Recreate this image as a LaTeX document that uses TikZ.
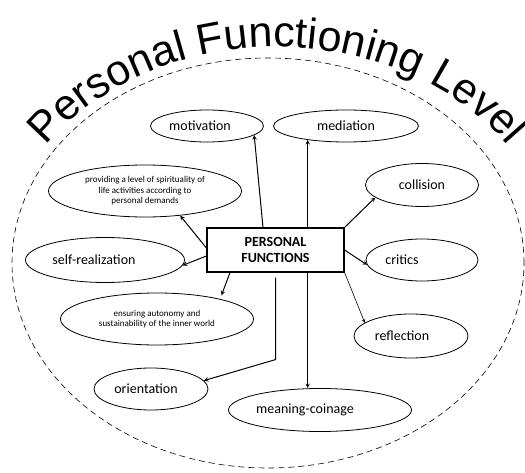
\documentclass[tikz,border=0pt]{standalone}
\usepackage{fontspec}
\setmainfont{Carlito}
\newfontfamily\titlefont{Liberation Sans}
\usetikzlibrary{shapes.geometric,decorations.text}
\begin{document}
\begin{tikzpicture}[x=1pt,y=1pt,
	func/.style={ellipse,draw,line width=0.8pt,inner sep=0pt,font=\fontsize{14}{16}\selectfont},
	small/.style={font=\fontsize{9}{10.5}\selectfont,align=center},
	arr/.style={-stealth,line width=1pt}]
	\useasboundingbox (0,0) rectangle (525,472);
	\draw[dash pattern=on 6pt off 4pt,line width=0.6pt] (268,209) ellipse[x radius=256,y radius=205];
	\path[decorate,decoration={text along path,text align=center,
		text={|\titlefont\fontsize{43}{43}\selectfont|Personal Functioning Level}}]
		(277,198) ++(165:280 and 227) arc[start angle=165,end angle=15,x radius=280,y radius=227];
	% centre box
	\node[draw,line width=1.2pt,fill=white,minimum width=137,minimum height=44,inner sep=0pt,
		font=\bfseries\fontsize{14}{16}\selectfont,align=center] (pf) at (275.5,222) {PERSONAL\\FUNCTIONS};
	% functions
	\node[func,minimum width=113,minimum height=32] (motivation) at (207,346) {motivation\hspace*{14pt}};
	\node[func,minimum width=145,minimum height=32] (mediation) at (346,346) {mediation};
	\node[func,small,minimum width=193,minimum height=52] (spirit) at (145,281) {providing a level of spirituality of\\life activities according to\\personal demands};
	\node[func,minimum width=159,minimum height=45] (selfreal) at (105,212) {self-realization\hspace*{22pt}};
	\node[func,small,minimum width=193,minimum height=52] (autonomy) at (157,153) {ensuring autonomy and\\sustainability of the inner world};
	\node[func,minimum width=114,minimum height=42] (orientation) at (151,83) {orientation\hspace*{10pt}};
	\node[func,minimum width=183,minimum height=43] (meaning) at (320,62) {meaning-coinage\hspace*{30pt}};
	\node[func,minimum width=113,minimum height=43] (collision) at (422,287) {collision};
	\node[func,minimum width=112,minimum height=42] (critics) at (422,212) {critics\hspace*{40pt}};
	\node[func,minimum width=114,minimum height=44] (reflection) at (411,136) {reflection\hspace*{18pt}};
	% arrows
	\draw[arr] ([xshift=-12.5pt]pf.north) -- (motivation.-11);
	\draw[arr] (mediation.200 |- pf.north) -- (mediation.200);
	\draw[arr] (mediation.200 |- pf.south) -- (mediation.200 |- meaning.north);
	\draw[arr] ([yshift=-5pt]pf.south) -- ([yshift=-87pt]pf.south) -- (orientation.9);
	\draw[arr] ([yshift=2pt]pf.west) -- (spirit.-35);
	\draw[arr] ([yshift=-6pt]pf.west) -- (selfreal.-4);
	\draw[arr] ([xshift=-45.5pt]pf.south) -- ([yshift=4pt]autonomy.17);
	\draw[arr] (pf.north east) -- (collision.195);
	\draw[arr] (pf.east) -- (critics.185);
	\draw[arr,line width=0.6pt] (pf.south east) -- (reflection.164);
\end{tikzpicture}
\end{document}
